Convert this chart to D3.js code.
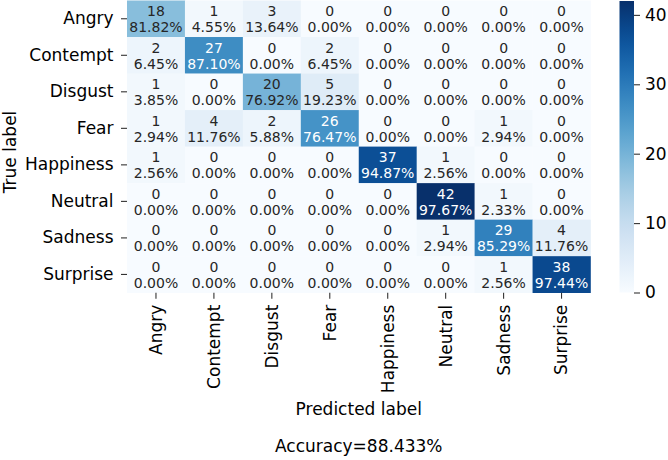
<!DOCTYPE html>
<html>
<head>
<meta charset="utf-8">
<script src="https://cdn.jsdelivr.net/npm/d3@7"></script>
<style>
  body { margin: 0; background: #fff; }
  svg { font-family: "DejaVu Sans", sans-serif; }
</style>
</head>
<body>
<svg id="chart"></svg>
<script>
"use strict";

// классы эмоций
var aLabels = ["Angry", "Contempt", "Disgust", "Fear", "Happiness", "Neutral", "Sadness", "Surprise"];

// количество (строка = истинный класс)
var aCounts = [
    [18, 1, 3, 0, 0, 0, 0, 0],
    [2, 27, 0, 2, 0, 0, 0, 0],
    [1, 0, 20, 5, 0, 0, 0, 0],
    [1, 4, 2, 26, 0, 0, 1, 0],
    [1, 0, 0, 0, 37, 1, 0, 0],
    [0, 0, 0, 0, 0, 42, 1, 0],
    [0, 0, 0, 0, 0, 1, 29, 4],
    [0, 0, 0, 0, 0, 0, 1, 38]
];

// проценты по строкам
var aPercents = [
    ["81.82", "4.55", "13.64", "0.00", "0.00", "0.00", "0.00", "0.00"],
    ["6.45", "87.10", "0.00", "6.45", "0.00", "0.00", "0.00", "0.00"],
    ["3.85", "0.00", "76.92", "19.23", "0.00", "0.00", "0.00", "0.00"],
    ["2.94", "11.76", "5.88", "76.47", "0.00", "0.00", "2.94", "0.00"],
    ["2.56", "0.00", "0.00", "0.00", "94.87", "2.56", "0.00", "0.00"],
    ["0.00", "0.00", "0.00", "0.00", "0.00", "97.67", "2.33", "0.00"],
    ["0.00", "0.00", "0.00", "0.00", "0.00", "2.94", "85.29", "11.76"],
    ["0.00", "0.00", "0.00", "0.00", "0.00", "0.00", "2.56", "97.44"]
];

var aColorbarTicks = [0, 10, 20, 30, 40];
var sAccuracy = "Accuracy=88.433%";

// подготовка переменных
var iWidth = 668, iHeight = 460;
var fLeft = 127, fRight = 590.5, fTop = 0.5, fBottom = 292.7;
var fFont = 17, fAnnotFont = 14;
var fMax = d3.max(aCounts, r => d3.max(r));

var svg = d3.select("#chart")
    .attr("width", iWidth)
    .attr("height", iHeight);

var xScale = d3.scaleBand().domain(aLabels).range([fLeft, fRight]);
var yScale = d3.scaleBand().domain(aLabels).range([fTop, fBottom]);
var color = d3.scaleSequential(d3.interpolateBlues).domain([0, fMax]);

function luminance(c) {
    var rgb = d3.rgb(c);
    var lin = [rgb.r, rgb.g, rgb.b].map(function(v) {
        v = v / 255;
        return v <= 0.03928 ? v / 12.92 : Math.pow((v + 0.055) / 1.055, 2.4);
    });
    return 0.2126 * lin[0] + 0.7152 * lin[1] + 0.0722 * lin[2];
}

// ячейки
var aCells = [];
aCounts.forEach(function(row, i) {
    row.forEach(function(v, j) {
        aCells.push({ row: aLabels[i], col: aLabels[j], v: v, p: aPercents[i][j] });
    });
});

var cells = svg.append("g").selectAll("g")
    .data(aCells)
    .enter()
    .append("g");

cells.append("rect")
    .attr("x", d => xScale(d.col))
    .attr("y", d => yScale(d.row))
    .attr("width", xScale.bandwidth() + 0.3)
    .attr("height", yScale.bandwidth() + 0.3)
    .attr("fill", d => color(d.v));

cells.append("text")
    .attr("x", d => xScale(d.col) + xScale.bandwidth() / 2)
    .attr("y", d => yScale(d.row) + yScale.bandwidth() / 2)
    .attr("text-anchor", "middle")
    .attr("font-size", fAnnotFont)
    .attr("fill", d => luminance(color(d.v)) > 0.408 ? "#262626" : "#ffffff")
    .each(function(d) {
        var t = d3.select(this);
        t.append("tspan").attr("x", t.attr("x")).attr("dy", "-0.18em").text(d.v);
        t.append("tspan").attr("x", t.attr("x")).attr("dy", "1.15em").text(d.p + "%");
    });

// ось y
var gy = svg.append("g")
    .attr("transform", `translate(${fLeft}, 0)`)
    .call(d3.axisLeft(yScale).tickSize(6).tickPadding(7.5));
gy.select(".domain").remove();
gy.selectAll("text").attr("font-size", fFont).attr("fill", "#000").attr("font-family", "DejaVu Sans");
gy.selectAll("line").attr("stroke", "#333").attr("stroke-width", 1.1);

// ось x
var gx = svg.append("g")
    .attr("transform", `translate(0, ${fBottom})`)
    .call(d3.axisBottom(xScale).tickSize(6).tickPadding(7.5));
gx.select(".domain").remove();
gx.selectAll("line").attr("stroke", "#333").attr("stroke-width", 1.1);
gx.selectAll("text")
    .attr("font-size", fFont)
    .attr("fill", "#000")
    .attr("font-family", "DejaVu Sans")
    .attr("transform", "rotate(-90)")
    .attr("text-anchor", "end")
    .attr("x", -12)
    .attr("y", 0)
    .attr("dy", "0.35em");

// подписи осей
svg.append("text")
    .attr("x", (fLeft + fRight) / 2)
    .attr("y", 415)
    .attr("text-anchor", "middle")
    .attr("font-size", fFont)
    .text("Predicted label");

svg.append("text")
    .attr("transform", `translate(15.5, 152) rotate(-90)`)
    .attr("text-anchor", "middle")
    .attr("font-size", fFont)
    .text("True label");

svg.append("text")
    .attr("x", (fLeft + fRight) / 2)
    .attr("y", 452)
    .attr("text-anchor", "middle")
    .attr("font-size", fFont)
    .text(sAccuracy);

// шкала цвета
var fCbX = 619.5, fCbW = 14.5, fCbTop = 1, fCbBottom = 292.5;
var cbScale = d3.scaleLinear().domain([0, fMax]).range([fCbBottom, fCbTop]);

var grad = svg.append("defs").append("linearGradient")
    .attr("id", "cbgrad")
    .attr("x1", 0).attr("y1", 1).attr("x2", 0).attr("y2", 0);
d3.range(0, 1.0001, 0.05).forEach(function(t) {
    grad.append("stop").attr("offset", t).attr("stop-color", d3.interpolateBlues(t));
});

svg.append("rect")
    .attr("x", fCbX)
    .attr("y", fCbTop)
    .attr("width", fCbW)
    .attr("height", fCbBottom - fCbTop)
    .attr("fill", "url(#cbgrad)");

var gc = svg.append("g")
    .attr("transform", `translate(${fCbX + fCbW}, 0)`)
    .call(d3.axisRight(cbScale).tickValues(aColorbarTicks).tickSize(6).tickPadding(5));
gc.select(".domain").remove();
gc.selectAll("line").attr("stroke", "#333").attr("stroke-width", 1.1);
gc.selectAll("text").attr("font-size", fFont).attr("fill", "#000").attr("font-family", "DejaVu Sans");
</script>
</body>
</html>
